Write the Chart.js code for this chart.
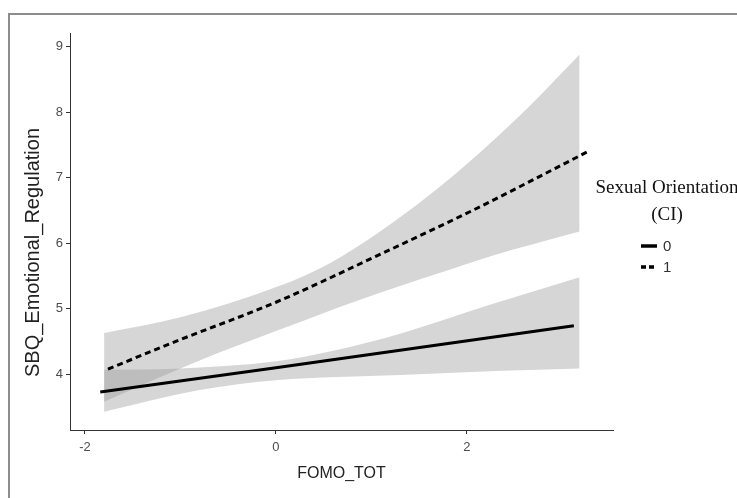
<!DOCTYPE html>
<html>
<head>
<meta charset="utf-8">
<title>SBQ Emotional Regulation vs FOMO</title>
<script src="https://cdn.jsdelivr.net/npm/chart.js@4"></script>
<style>
  html, body { margin: 0; padding: 0; background: #fff; }
  #wrap { position: relative; width: 737px; height: 498px; overflow: hidden; }
  #frame { position: absolute; left: 8px; top: 13px; width: 800px; height: 600px;
           border-top: 2px solid #8c8c8c; border-left: 2px solid #8c8c8c; }
  canvas { position: absolute; left: 0; top: 0; }
</style>
</head>
<body>
<div id="wrap">
  <div id="frame"></div>
  <canvas id="grafico" width="737" height="498"></canvas>
</div>
<script>
// === DADOS ===
const xTicks = [-2, 0, 2];
const yTicks = [4, 5, 6, 7, 8, 9];
const groupLabels = ['0', '1'];
const legendTitle = ['Sexual Orientation', '(CI)'];
const yTitle = 'SBQ_Emotional_Regulation';

// grupo 0 (linha contínua)
const line0X = [-1.84, 0, 3.12];
const line0Y = [3.73, 4.10, 4.74];
const band0X = [-1.8, -1.0, 0, 0.6, 1.3, 2.24, 3.18];
const band0Upper = [4.07, 4.09, 4.20, 4.36, 4.62, 5.06, 5.48];
const band0LowX = [-1.8, -0.8, 0, 1.3, 2.3, 3.18];
const band0Lower = [3.43, 3.76, 3.91, 3.99, 4.05, 4.09];

// grupo 1 (linha tracejada)
const line1X = [-1.76, -1.0, 0, 1.09, 2.14, 3.28];
const line1Y = [4.08, 4.53, 5.10, 5.83, 6.56, 7.41];
const band1X = [-1.8, -1.0, 0.04, 0.57, 1.09, 1.61, 2.14, 2.66, 3.18];
const band1Upper = [4.63, 4.87, 5.35, 5.70, 6.18, 6.74, 7.39, 8.10, 8.88];
const band1LowX = [-1.8, -0.8, 0, 0.88, 1.72, 2.24, 3.18];
const band1Lower = [3.58, 4.21, 4.66, 5.14, 5.55, 5.80, 6.18];

const pts = (xs, ys) => xs.map((x, i) => ({ x: x, y: ys[i] }));

const bandFill = 'rgba(153,153,153,0.4)';
const fonteSans = 'Liberation Sans';

// título do eixo Y e legenda desenhados à mão
const extras = {
  id: 'extras',
  afterDraw(chart) {
    const ctx = chart.ctx;
    const area = chart.chartArea;
    ctx.save();

    // título do eixo Y (um pouco abaixo do centro, como na figura)
    ctx.save();
    ctx.translate(33, (area.top + area.bottom) / 2 + 21);
    ctx.rotate(-Math.PI / 2);
    ctx.fillStyle = '#222';
    ctx.font = '20px "' + fonteSans + '"';
    ctx.textAlign = 'center';
    ctx.textBaseline = 'middle';
    ctx.fillText(yTitle, 0, 0);
    ctx.restore();

    // legenda
    const cx = area.right + 54;
    ctx.fillStyle = '#111';
    ctx.font = '19px "Liberation Serif"';
    ctx.textAlign = 'center';
    ctx.textBaseline = 'alphabetic';
    ctx.fillText(legendTitle[0], cx, 193);
    ctx.fillText(legendTitle[1], cx, 220);
    groupLabels.forEach((lab, i) => {
      const y = 246 + i * 21;
      ctx.beginPath();
      ctx.setLineDash(i ? [5, 3] : []);
      ctx.lineWidth = 3.5;
      ctx.strokeStyle = '#000';
      ctx.moveTo(cx - 26, y);
      ctx.lineTo(cx - 10, y);
      ctx.stroke();
      ctx.setLineDash([]);
      ctx.font = '15px "' + fonteSans + '"';
      ctx.textAlign = 'left';
      ctx.textBaseline = 'middle';
      ctx.fillStyle = '#333';
      ctx.fillText(lab, cx - 4, y + 1);
    });
    ctx.restore();
  }
};

new Chart(document.getElementById('grafico'), {
  type: 'line',
  data: {
    datasets: [
      { data: pts(band1X, band1Upper), order: 2, fill: '+1', backgroundColor: bandFill, borderWidth: 0, pointRadius: 0, cubicInterpolationMode: 'monotone' },
      { data: pts(band1LowX, band1Lower), order: 2, fill: false, borderWidth: 0, pointRadius: 0, cubicInterpolationMode: 'monotone' },
      { data: pts(band0X, band0Upper), order: 2, fill: '+1', backgroundColor: bandFill, borderWidth: 0, pointRadius: 0, cubicInterpolationMode: 'monotone' },
      { data: pts(band0LowX, band0Lower), order: 2, fill: false, borderWidth: 0, pointRadius: 0, cubicInterpolationMode: 'monotone' },
      { label: groupLabels[0], data: pts(line0X, line0Y), order: 0, borderColor: '#000', borderWidth: 3, pointRadius: 0, fill: false },
      { label: groupLabels[1], data: pts(line1X, line1Y), order: 0, borderColor: '#000', borderWidth: 3, borderDash: [6, 4], pointRadius: 0, fill: false, cubicInterpolationMode: 'monotone' }
    ]
  },
  options: {
    responsive: false,
    animation: false,
    events: [],
    layout: { padding: { left: 20, top: 33, right: 124, bottom: 10 } },
    plugins: {
      legend: { display: false },
      tooltip: { enabled: false }
    },
    scales: {
      x: {
        type: 'linear',
        min: -2.157,
        max: 3.53,
        afterBuildTicks: s => { s.ticks = xTicks.map(v => ({ value: v })); },
        afterFit: s => { s.height = 58; },
        border: { color: '#333', width: 1 },
        grid: { drawOnChartArea: false, color: '#333', tickLength: 4 },
        ticks: { color: '#4d4d4d', font: { family: fonteSans, size: 13 }, padding: 6, maxRotation: 0 },
        title: { display: true, text: 'FOMO_TOT', color: '#222', font: { family: fonteSans, size: 16 }, padding: { top: 0, bottom: 5 } }
      },
      y: {
        type: 'linear',
        min: 3.15,
        max: 9.21,
        afterBuildTicks: s => { s.ticks = yTicks.map(v => ({ value: v })); },
        afterFit: s => { s.width = 50; },
        border: { color: '#333', width: 1 },
        grid: { drawOnChartArea: false, color: '#333', tickLength: 4 },
        ticks: { color: '#4d4d4d', font: { family: fonteSans, size: 13 }, padding: 3 },
        title: { display: false }
      }
    }
  },
  plugins: [extras]
});
</script>
</body>
</html>
